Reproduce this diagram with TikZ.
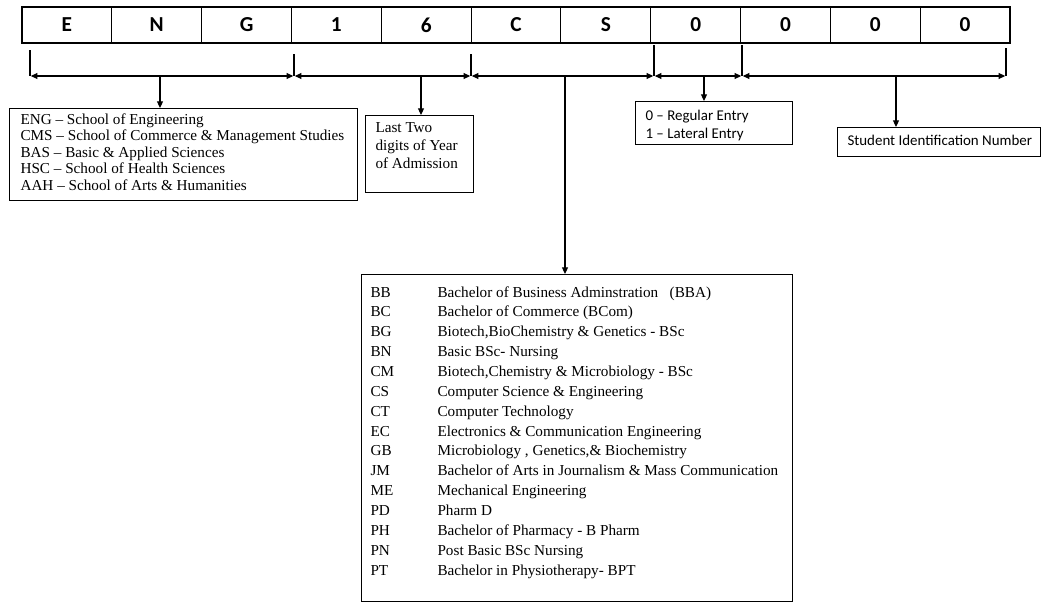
\documentclass[tikz,border=0pt]{standalone}
\usepackage{fontspec}
\setmainfont{Liberation Serif}
\newfontfamily\calibri{Carlito}
\usetikzlibrary{arrows.meta,calc}
\begin{document}
\begin{tikzpicture}[x=0.75pt,y=-0.75pt,
  line width=0.8pt,
  cell/.style={draw, line width=0.8pt, minimum width=67.36pt, minimum height=27pt, inner sep=0pt,
    font=\calibri\bfseries\fontsize{16}{18}\selectfont},
  box/.style={draw, line width=0.8pt, inner sep=0pt, anchor=north west},
  serif/.style={inner sep=0pt, anchor=base west, font=\fontsize{11.4}{13}\selectfont},
  sans/.style={inner sep=0pt, anchor=base west, font=\calibri\fontsize{11.2}{13}\selectfont},
  tip/.style={-{Triangle[length=5pt,width=4.5pt]}},
  dbl/.style={{Triangle[length=5pt,width=4.5pt]}-{Triangle[length=5pt,width=4.5pt]}, shorten <=0.6pt, shorten >=0.6pt},
]
\useasboundingbox (0,0) rectangle (1046,603);

% code cells
\foreach \ch [count=\i] in {E,N,G,1,6,C,S,0,0,0,0}
  \node[cell] (k\i) at ({22+89.82*(\i-0.5)},25) {\ch};

% bracket ticks
\coordinate (a0) at (30,50);   \coordinate (b0) at (30,76);
\coordinate (a1) at (294,54);  \coordinate (b1) at (294,76);
\coordinate (a2) at (471,54);  \coordinate (b2) at (471,76);
\coordinate (a3) at (654,45);  \coordinate (b3) at (654,76);
\coordinate (a4) at (742,45);  \coordinate (b4) at (742,76);
\coordinate (a5) at (1006,48); \coordinate (b5) at (1006,76);

\draw[line width=1.8pt] (a0) -- (b0);
\foreach \j in {1,...,5} \draw (a\j) -- (b\j);

\draw[dbl] (b0) -- (b1);
\draw[dbl] (b1) -- (b2);
\draw[dbl] (b2) -- (b3);
\draw[dbl] (b3) -- (b4);
\draw[dbl] (b4) -- (b5);

% boxes
\node[box, minimum width=261pt, minimum height=69pt] (engbox) at (9,108) {};
\node[box, minimum width=81pt, minimum height=57.75pt] (yearbox) at (365,115) {};
\node[box, minimum width=117.75pt, minimum height=32.25pt] (entrybox) at (635,101) {};
\node[box, minimum width=152.25pt, minimum height=21.75pt] (idbox) at (837,127) {};
\node[box, minimum width=323.25pt, minimum height=245.25pt] (progbox) at (361,274) {};

% down arrows
\coordinate (m0) at (160,76);
\coordinate (m1) at (421,76);
\coordinate (m2) at (565,76);
\coordinate (m3) at (704,76);
\coordinate (m4) at (896,76);
\draw[tip] (m0) -- (m0 |- engbox.north);
\draw[tip] (m1) -- (m1 |- yearbox.north);
\draw[tip] (m2) -- (m2 |- progbox.north);
\draw[tip] (m3) -- (m3 |- entrybox.north);
\draw[tip] (m4) -- (m4 |- idbox.north);

% school text
\foreach \t [count=\i] in {ENG – School of Engineering,
  CMS – School of Commerce \& Management Studies,
  BAS – Basic \& Applied Sciences,
  HSC – School of Health Sciences,
  AAH – School of Arts \& Humanities}
  \node[serif] (e\i) at (20,{124+16.5*(\i-1)}) {\t};

% year text
\node[serif] (y1) at (375,132) {Last Two};
\node[serif] (y2) at (375,150) {digits of Year};
\node[serif] (y3) at (375,168) {of Admission};

% entry text
\node[sans] (n1) at (645,120) {0 – Regular Entry};
\node[sans] (n2) at (645,138) {1 – Lateral Entry};

% id text
\node[sans] (id1) at (847,145) {Student Identification Number};

% programme list
\foreach \c/\d [count=\i] in {
  BB/Bachelor of Business Adminstration\ \ \ (BBA),
  BC/Bachelor of Commerce (BCom),
  BG/{Biotech,BioChemistry \& Genetics - BSc},
  BN/Basic BSc- Nursing,
  CM/{Biotech,Chemistry \& Microbiology - BSc},
  CS/Computer Science \& Engineering,
  CT/Computer Technology,
  EC/Electronics \& Communication Engineering,
  GB/{Microbiology , Genetics,\& Biochemistry},
  JM/Bachelor of Arts in Journalism \& Mass Communication,
  ME/Mechanical Engineering,
  PD/Pharm D,
  PH/Bachelor of Pharmacy - B Pharm,
  PN/Post Basic BSc Nursing,
  PT/Bachelor in Physiotherapy- BPT}
{
  \node[serif] (c\i) at (370,{297+19.86*(\i-1)}) {\c};
  \node[serif] (d\i) at (437,{297+19.86*(\i-1)}) {\d};
}
\end{tikzpicture}
\end{document}
